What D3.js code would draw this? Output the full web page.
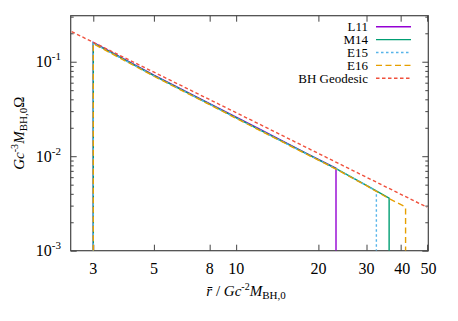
<!DOCTYPE html>
<html>
<head>
<meta charset="utf-8">
<script src="https://cdn.jsdelivr.net/npm/d3@7"></script>
<style>
  body { margin: 0; background: #fff; }
  svg text { font-family: "Liberation Serif", "Times New Roman", serif; fill: #000; }
  .tick line { stroke: #444; }
</style>
</head>
<body>
<script>
// ticks
const xTicks = [3, 5, 8, 10, 20, 30, 40, 50];
const yMajor = [1e-3, 1e-2, 1e-1];
const yExp = [-3, -2, -1];

// series (r / G c^-2 M, Omega)
const names = ["L11", "M14", "E15", "E16", "BH Geodesic"];
const rL11 = [3, 3, 5, 8, 12, 18, 23.2, 23.2];
const wL11 = [1e-3, 0.160, 0.0720, 0.0360, 0.0198, 0.0108, 0.00745, 1e-3];
const rM14 = [3, 3, 5, 8, 12, 18, 23.2, 30, 36.3, 36.3];
const wM14 = [1e-3, 0.158, 0.0712, 0.0356, 0.0195, 0.0107, 0.0074, 0.00492, 0.00359, 1e-3];
const rE15 = [3, 3, 5, 8, 12, 18, 23.2, 30, 32.6, 32.6];
const wE15 = [1e-3, 0.157, 0.0708, 0.0354, 0.0194, 0.01065, 0.00737, 0.0049, 0.00428, 1e-3];
const rE16 = [3, 3, 5, 8, 12, 18, 23.2, 30, 36.3, 41.0, 41.7, 41.7];
const wE16 = [1e-3, 0.155, 0.0702, 0.0351, 0.0192, 0.0106, 0.0073, 0.00487, 0.00355, 0.00297, 0.00281, 1e-3];
const rBH = [2.5, 10, 50];
const wBH = [0.208, 0.0289, 0.00288];

const colors = ["#9400d3", "#009e73", "#56b4e9", "#e69f00", "#f0503c"];
const dashes = [null, null, "2.5,2.5", "6,3.5", "3.5,2.5"];

const W = 458, H = 321;
const pLeft = 70.7, pRight = 428.3, pTop = 15.7, pBottom = 250.7;

const x = d3.scaleLog().domain([2.48, 50.5]).range([pLeft, pRight]);
const y = d3.scaleLog().domain([1e-3, 0.307]).range([pBottom, pTop]);

const svg = d3.select("body").append("svg")
    .attr("width", W).attr("height", H);

svg.append("defs").append("clipPath").attr("id", "clip")
  .append("rect").attr("x", pLeft).attr("y", pTop)
  .attr("width", pRight - pLeft).attr("height", pBottom - pTop);

// minor y ticks
const yMinor = [];
yMajor.forEach(d => { for (let k = 2; k <= 9; k++) if (d * k < 0.307) yMinor.push(d * k); });

function yAxisCall(g, side, size) {
  const ax = (side === "left" ? d3.axisLeft(y) : d3.axisRight(y));
  g.call(ax.tickValues(size > 4 ? yMajor : yMinor).tickSize(-size).tickFormat(""));
  g.select(".domain").remove();
}
svg.append("g").attr("transform", `translate(${pLeft},0)`).call(yAxisCall, "left", 6);
svg.append("g").attr("transform", `translate(${pLeft},0)`).call(yAxisCall, "left", 3);
svg.append("g").attr("transform", `translate(${pRight},0)`).call(yAxisCall, "right", 6);
svg.append("g").attr("transform", `translate(${pRight},0)`).call(yAxisCall, "right", 3);

const xb = svg.append("g").attr("transform", `translate(0,${pBottom})`)
  .call(d3.axisBottom(x).tickValues(xTicks).tickSize(-6).tickFormat(""));
xb.select(".domain").remove();
const xt = svg.append("g").attr("transform", `translate(0,${pTop})`)
  .call(d3.axisTop(x).tickValues(xTicks).tickSize(-6).tickFormat(""));
xt.select(".domain").remove();

// x tick labels
svg.append("g").selectAll("text").data(xTicks).enter().append("text")
  .attr("x", d => x(d) + (d >= 40 ? 1.5 : 0))
  .attr("y", 274)
  .attr("text-anchor", "middle")
  .style("font-size", "16px")
  .text(d => d);

// y tick labels
const yl = svg.append("g").selectAll("text").data(yMajor).enter().append("text")
  .attr("x", 61)
  .attr("y", d => y(d) + 5.5)
  .attr("text-anchor", "end")
  .style("font-size", "16px");
yl.append("tspan").text("10");
yl.append("tspan").attr("dy", -7).style("font-size", "11px").text((d, i) => yExp[i]);

// border
svg.append("rect")
  .attr("x", pLeft).attr("y", pTop)
  .attr("width", pRight - pLeft).attr("height", pBottom - pTop)
  .attr("fill", "none").attr("stroke", "#444").attr("stroke-width", 1.2);

// curves
const rs = [rL11, rM14, rE15, rE16, rBH];
const ws = [wL11, wM14, wE15, wE16, wBH];
const line = d3.line().x(d => x(d[0])).y(d => y(d[1]));
const plot = svg.append("g").attr("clip-path", "url(#clip)");
rs.forEach((r, i) => {
  plot.append("path")
    .datum(r.map((v, j) => [v, ws[i][j]]))
    .attr("d", line)
    .attr("fill", "none")
    .attr("stroke", colors[i])
    .attr("stroke-width", 1.4)
    .attr("stroke-dasharray", dashes[i]);
});

// legend
const leg = svg.append("g").selectAll("g").data(names).enter().append("g")
  .attr("transform", (d, i) => `translate(0,${26.7 + i * 12.9})`);
leg.append("text").attr("x", 368).attr("y", 4.5)
  .attr("text-anchor", "end").style("font-size", "13px").text(d => d);
leg.append("line").attr("x1", 376).attr("x2", 411).attr("y1", 0).attr("y2", 0)
  .attr("stroke", (d, i) => colors[i]).attr("stroke-width", 1.4)
  .attr("stroke-dasharray", (d, i) => dashes[i]);

// axis labels
const xl = svg.append("text").attr("x", 246).attr("y", 296)
  .attr("text-anchor", "middle").style("font-size", "15px");
xl.append("tspan").style("font-style", "italic").text("r\u0304");
xl.append("tspan").text(" / ");
xl.append("tspan").style("font-style", "italic").text("Gc");
xl.append("tspan").attr("dy", -6).style("font-size", "10px").text("-2");
xl.append("tspan").attr("dy", 6).style("font-style", "italic").text("M");
xl.append("tspan").attr("dy", 3).style("font-size", "11px").text("BH,0");

const ylab = svg.append("text")
  .attr("transform", `translate(24,${(pTop + pBottom) / 2}) rotate(-90)`)
  .attr("text-anchor", "middle").style("font-size", "15px");
ylab.append("tspan").style("font-style", "italic").text("Gc");
ylab.append("tspan").attr("dy", -6).style("font-size", "10px").text("-3");
ylab.append("tspan").attr("dy", 6).style("font-style", "italic").text("M");
ylab.append("tspan").attr("dy", 3).style("font-size", "11px").text("BH,0");
ylab.append("tspan").attr("dy", -3).text("\u03a9");
</script>
</body>
</html>
